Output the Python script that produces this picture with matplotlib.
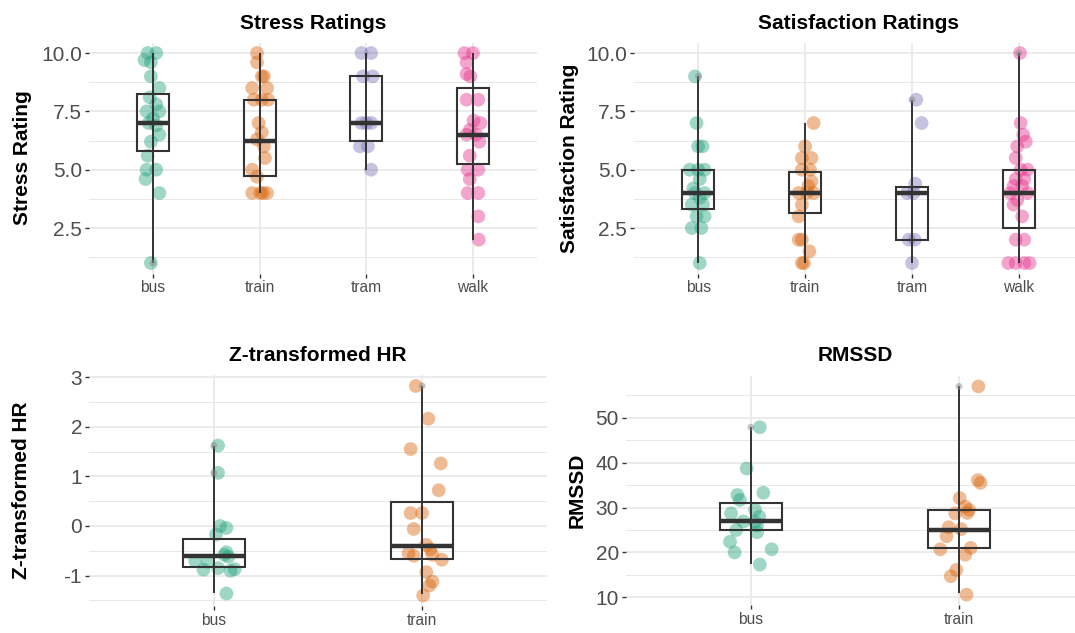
import matplotlib
matplotlib.use('Agg')
import matplotlib.pyplot as plt
from matplotlib.patches import Rectangle
from matplotlib.ticker import MultipleLocator, FormatStrFormatter

plt.rcParams['font.family'] = ['Liberation Sans', 'DejaVu Sans']
plt.rcParams['axes.unicode_minus'] = False

# Dark2 colours, one per transport mode
mode_colors = {'bus': '#1B9E77', 'train': '#D95F02', 'tram': '#7570B3', 'walk': '#E7298A'}

modes_all = ['bus', 'train', 'tram', 'walk']
modes_hr = ['bus', 'train']

# ---- stress ratings: point values and their horizontal jitter ----
stress_bus = [10, 10, 9.7, 9.6, 9.0, 8.5, 8.1, 7.8, 7.5, 7.5, 7.2, 7.0, 6.9, 6.5, 6.2, 5.6, 5.0, 5.0, 4.6, 4.0, 1.0]
stress_bus_jit = [-0.05, 0.03, -0.08, -0.02, -0.02, 0.06, -0.03, 0.03, -0.06, 0.06, 0.0, -0.04, 0.03, 0.06, -0.02,
                  -0.05, -0.06, 0.03, -0.07, 0.06, -0.02]
stress_train = [10, 9.6, 9.0, 9.0, 8.5, 8.5, 8.0, 8.0, 8.0, 7.0, 6.6, 6.3, 6.0, 5.5, 5.0, 4.7, 4.0, 4.0, 4.0, 4.0]
stress_train_jit = [-0.025, -0.025, 0.02, 0.04, -0.07, 0.07, -0.055, 0.02, 0.08, -0.01, 0.02, -0.025, 0.04, 0.05,
                    -0.07, -0.025, -0.07, 0.005, 0.07, 0.03]
stress_tram = [10, 10, 9.0, 9.0, 7.0, 7.0, 7.0, 6.0, 6.0, 5.0]
stress_tram_jit = [-0.045, 0.045, -0.03, 0.06, -0.045, 0.045, 0.0, -0.06, 0.015, 0.045]
stress_walk = [10, 10, 9.6, 9.1, 9.0, 8.0, 8.0, 7.1, 7.0, 6.7, 6.5, 6.5, 6.2, 5.6, 5.0, 5.0, 4.6, 4.0, 4.0, 3.0, 2.0]
stress_walk_jit = [-0.08, 0.0, -0.06, -0.06, -0.025, -0.06, 0.05, 0.005, 0.07, -0.03, -0.06, 0.03, 0.06, -0.03,
                   -0.05, 0.05, -0.03, -0.05, 0.05, 0.05, 0.055]
stress_q1 = [5.81, 4.75, 6.25, 5.25]
stress_med = [7.0, 6.25, 7.0, 6.5]
stress_q3 = [8.25, 8.0, 9.0, 8.5]
stress_lo = [1.0, 4.0, 5.0, 2.0]
stress_hi = [10.0, 10.0, 10.0, 10.0]

# ---- satisfaction ratings ----
sat_bus = [9.0, 7.0, 6.0, 6.0, 5.0, 5.0, 5.0, 4.6, 4.2, 4.0, 4.0, 3.8, 3.5, 3.5, 3.0, 3.0, 2.5, 2.5, 1.0]
sat_bus_jit = [-0.03, -0.015, 0.0, 0.04, -0.08, 0.0, 0.06, 0.015, -0.045, 0.06, -0.03, 0.015, -0.06, 0.045,
               -0.015, 0.06, -0.06, 0.03, 0.015]
sat_train = [7.0, 6.0, 5.5, 5.5, 5.0, 5.0, 4.5, 4.3, 4.0, 4.0, 4.0, 3.5, 3.0, 2.0, 2.0, 1.5, 1.0, 1.0]
sat_train_jit = [0.08, 0.0, -0.03, 0.06, -0.03, 0.045, 0.06, 0.03, -0.06, 0.015, 0.08, -0.03, -0.06, -0.06,
                 -0.03, 0.04, -0.03, -0.01]
sat_tram = [8.0, 7.0, 4.4, 4.0, 4.0, 2.0, 2.0, 1.0]
sat_tram_jit = [0.04, 0.09, 0.03, -0.045, 0.015, -0.03, 0.025, 0.0]
sat_walk = [10, 7.0, 6.5, 6.2, 6.0, 5.5, 5.0, 5.0, 4.6, 4.6, 4.3, 4.3, 4.0, 4.0, 3.7, 3.5, 3.0, 2.0, 2.0,
            1.0, 1.0, 1.0, 1.0]
sat_walk_jit = [0.01, 0.016, 0.04, 0.064, -0.016, -0.03, 0.016, 0.08, -0.03, 0.05, -0.05, 0.03, -0.08, 0.08,
                -0.016, -0.05, 0.03, -0.03, 0.05, -0.1, -0.03, 0.05, 0.1]
sat_q1 = [3.33, 3.13, 2.0, 2.5]
sat_med = [4.0, 4.0, 4.0, 4.0]
sat_q3 = [5.0, 4.92, 4.27, 5.0]
sat_lo = [1.0, 1.0, 1.0, 1.0]
sat_hi = [9.0, 7.0, 8.0, 10.0]

# ---- z-transformed heart rate ----
hr_bus = [1.62, 1.07, 0.0, -0.04, -0.17, -0.53, -0.58, -0.62, -0.7, -0.72, -0.88, -0.85, -0.9, -0.87, -1.36]
hr_bus_jit = [0.02, 0.02, 0.03, 0.06, 0.01, 0.06, 0.05, 0.07, -0.09, -0.03, -0.05, 0.02, 0.08, 0.1, 0.06]
hr_train = [2.82, 2.16, 1.55, 1.26, 0.72, 0.26, 0.26, -0.06, -0.38, -0.47, -0.55, -0.6, -0.58, -0.68, -0.93,
            -1.12, -1.2, -1.4]
hr_train_jit = [-0.03, 0.03, -0.055, 0.09, 0.08, -0.055, 0.0, -0.04, 0.02, 0.04, -0.065, -0.04, 0.05, 0.095,
                0.02, 0.05, 0.035, 0.005]
hr_q1 = [-0.83, -0.66]
hr_med = [-0.6, -0.41]
hr_q3 = [-0.26, 0.48]
hr_lo = [-1.34, -1.37]
hr_hi = [1.62, 2.82]

# ---- RMSSD ----
rmssd_bus = [47.9, 38.7, 33.3, 32.8, 31.7, 28.7, 29.5, 28.0, 26.9, 26.8, 26.0, 25.0, 24.5, 22.4, 20.7, 20.0, 17.3]
rmssd_bus_jit = [0.043, -0.02, 0.06, -0.065, -0.053, -0.095, 0.02, 0.04, -0.036, 0.02, 0.03, -0.07, 0.03, -0.1,
                 0.1, -0.078, 0.043]
rmssd_train = [57.0, 36.1, 35.5, 32.1, 30.2, 29.5, 28.7, 28.8, 25.6, 25.2, 23.6, 20.7, 21.0, 19.5, 16.1, 14.7, 10.6]
rmssd_train_jit = [0.093, 0.09, 0.103, 0.003, 0.03, 0.048, -0.018, 0.04, -0.05, 0.01, -0.06, -0.09, 0.056, 0.03,
                   -0.013, -0.04, 0.036]
rmssd_q1 = [24.9, 21.0]
rmssd_med = [27.0, 25.0]
rmssd_q3 = [31.0, 29.5]
rmssd_lo = [17.4, 11.0]
rmssd_hi = [47.9, 57.0]

GRID = '#E8E8E8'
DARK = '#333333'
BOX_W = 0.3


def draw_panel(ax, modes, points, jitters, q1, med, q3, lo, hi, title, ylabel,
               major, fmt, title_pad, label_x):
    for i, m in enumerate(modes):
        xs = [i + j for j in jitters[i]]
        ax.scatter(xs, points[i], s=98, color=mode_colors[m], alpha=0.42,
                   edgecolors='none', zorder=2)
        # whisker spans the full range of the group
        ax.plot([i, i], [lo[i], hi[i]], color=DARK, lw=1.4, zorder=3, solid_capstyle='butt')
        ax.add_patch(Rectangle((i - BOX_W / 2, q1[i]), BOX_W, q3[i] - q1[i], fill=False,
                               edgecolor=DARK, lw=1.5, zorder=3))
        ax.plot([i - BOX_W / 2, i + BOX_W / 2], [med[i], med[i]], color=DARK, lw=3.2,
                zorder=3, solid_capstyle='butt')
        # values beyond 1.5 IQR get the small outlier dot
        iqr = q3[i] - q1[i]
        outs = [v for v in points[i] if v > q3[i] + 1.5 * iqr or v < q1[i] - 1.5 * iqr]
        if outs:
            ax.scatter([i] * len(outs), outs, s=24, color='#8C8C8C', alpha=0.5,
                       edgecolors='none', zorder=4)

    allv = [v for p in points for v in p] + list(lo) + list(hi)
    vmin, vmax = min(allv), max(allv)
    pad = (vmax - vmin) * 0.05
    ax.set_ylim(vmin - pad, vmax + pad)
    ax.set_xlim(-0.6, len(modes) - 0.4)

    ax.set_xticks(range(len(modes)))
    ax.set_xticklabels(modes)
    ax.yaxis.set_major_locator(MultipleLocator(major))
    ax.yaxis.set_minor_locator(MultipleLocator(major / 2))
    ax.yaxis.set_major_formatter(FormatStrFormatter(fmt))

    ax.grid(True, which='major', axis='both', color=GRID, lw=1.2, zorder=0)
    ax.grid(True, which='minor', axis='y', color=GRID, lw=0.7, zorder=0)
    ax.set_axisbelow(True)
    for s in ax.spines.values():
        s.set_visible(False)

    ax.tick_params(axis='y', which='major', labelsize=15, labelcolor='#4D4D4D', color=DARK,
                   length=3, width=1, pad=2)
    ax.tick_params(axis='x', which='major', labelsize=11.2, labelcolor='#4D4D4D', color=DARK,
                   length=3, width=1, pad=2)
    ax.tick_params(which='minor', length=0)

    ax.set_title(title, fontsize=15, fontweight='bold', pad=title_pad)
    ax.set_ylabel(ylabel, fontsize=15, fontweight='bold')
    ax.yaxis.set_label_coords(label_x, 0.5)


fig = plt.figure(figsize=(10.75, 6.33), dpi=100)

ax1 = fig.add_axes([0.0828, 0.5679, 0.4167, 0.3649])
draw_panel(ax1, modes_all,
           [stress_bus, stress_train, stress_tram, stress_walk],
           [stress_bus_jit, stress_train_jit, stress_tram_jit, stress_walk_jit],
           stress_q1, stress_med, stress_q3, stress_lo, stress_hi,
           'Stress Ratings', 'Stress Rating', 2.5, '%.1f', 9.5, -0.127)

ax2 = fig.add_axes([0.5898, 0.5679, 0.4177, 0.3649])
draw_panel(ax2, modes_all,
           [sat_bus, sat_train, sat_tram, sat_walk],
           [sat_bus_jit, sat_train_jit, sat_tram_jit, sat_walk_jit],
           sat_q1, sat_med, sat_q3, sat_lo, sat_hi,
           'Satisfaction Ratings', 'Satisfaction Rating', 2.5, '%.1f', 9.5, -0.122)

ax3 = fig.add_axes([0.0828, 0.0427, 0.4260, 0.3641])
draw_panel(ax3, modes_hr, [hr_bus, hr_train], [hr_bus_jit, hr_train_jit],
           hr_q1, hr_med, hr_q3, hr_lo, hr_hi,
           'Z-transformed HR', 'Z-transformed HR', 1, '%d', 10.5, -0.127)

ax4 = fig.add_axes([0.5823, 0.0442, 0.4260, 0.3618])
draw_panel(ax4, modes_hr, [rmssd_bus, rmssd_train], [rmssd_bus_jit, rmssd_train_jit],
           rmssd_q1, rmssd_med, rmssd_q3, rmssd_lo, rmssd_hi,
           'RMSSD', 'RMSSD', 10, '%d', 10.5, -0.085)

fig.savefig('out.png', dpi=100, facecolor='white')
